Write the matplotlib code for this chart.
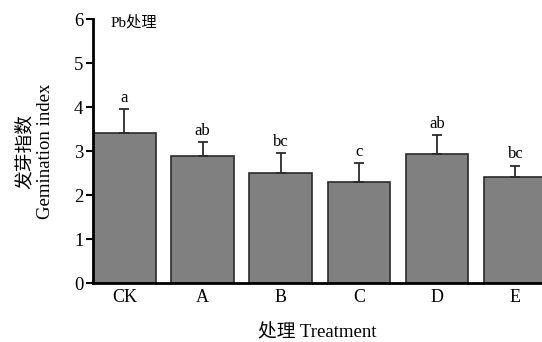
import matplotlib
matplotlib.use('Agg')
import matplotlib.pyplot as plt

plt.rcParams['font.family'] = ['Liberation Serif', 'Noto Sans CJK SC']

# data
treatments = ['CK', 'A', 'B', 'C', 'D', 'E']
germination = [3.41, 2.89, 2.50, 2.29, 2.94, 2.42]
errors = [0.54, 0.31, 0.46, 0.44, 0.42, 0.25]
letters = ['a', 'ab', 'bc', 'c', 'ab', 'bc']

fig = plt.figure(figsize=(5.42, 3.42), dpi=100)
ax = fig.add_axes([0.1716, 0.1725, 0.8284, 0.7719])

x = range(len(treatments))
ax.bar(x, germination, width=0.8, color='#808080', edgecolor='#2b2b2b', linewidth=1.2,
       yerr=[[0] * len(errors), errors], error_kw=dict(ecolor='#2b2b2b', elinewidth=1.3, capsize=3.5, capthick=1.3))

# significance letters above the error bars
for i, (v, e, s) in enumerate(zip(germination, errors, letters)):
    ax.text(i, v + e + 0.07, s, ha='center', va='bottom', fontsize=12)

ax.set_xlim(-0.4, 5.34)
ax.set_ylim(0, 6)
ax.set_yticks(range(7))
ax.set_xticks(list(x))
ax.set_xticklabels(treatments, fontsize=13)
ax.tick_params(axis='y', labelsize=13.5, direction='out', length=5, width=1.5, pad=2)
ax.tick_params(axis='x', length=0, pad=4)

for side in ['top', 'right']:
    ax.spines[side].set_visible(False)
for side in ['left', 'bottom']:
    ax.spines[side].set_linewidth(2)

ax.set_ylabel('发芽指数\nGemination index', fontsize=13.5, linespacing=1.3, labelpad=14)
ax.set_xlabel('处理 Treatment', fontsize=13.5, labelpad=13)
ax.text(-0.18, 5.93, 'Pb处理', ha='left', va='center', fontsize=11)

fig.savefig('out.png', dpi=100)
